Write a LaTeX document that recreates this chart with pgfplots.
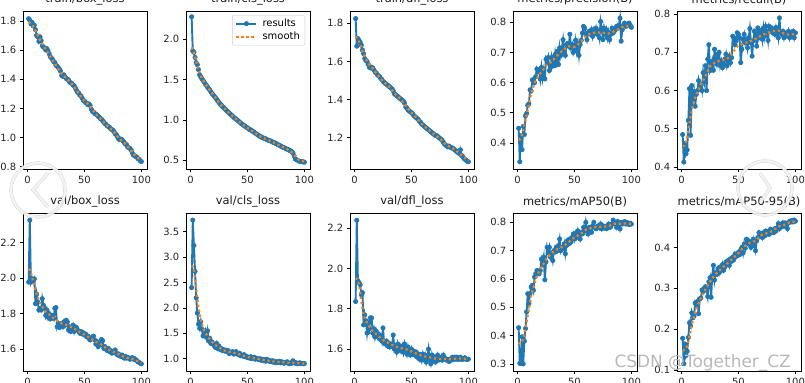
\documentclass[border=0pt]{standalone}
\usepackage{fontspec}
\setmainfont{DejaVu Sans}
\usepackage{pgfplots}
\usepackage{pgfplotstable}
\pgfplotsset{compat=1.18}
\definecolor{C0}{HTML}{1F77B4}
\definecolor{C1}{HTML}{FF7F0E}

\pgfplotstableread{
ep A B C D E F G H I J
1 1.815 2.280 1.825 0.449 0.485 1.977 2.40 1.836 0.428 0.178
2 1.805 1.855 1.680 0.338 0.413 2.325 3.73 2.240 0.302 0.116
3 1.780 1.840 1.720 0.424 0.462 1.977 3.23 1.940 0.302 0.164
4 1.790 1.775 1.710 0.378 0.435 1.996 2.72 1.930 0.396 0.136
5 1.765 1.710 1.700 0.455 0.445 1.980 2.20 1.920 0.300 0.146
6 1.770 1.685 1.685 0.428 0.522 1.995 1.90 1.870 0.380 0.180
7 1.740 1.625 1.660 0.490 0.605 1.856 1.68 1.880 0.425 0.216
8 1.700 1.560 1.640 0.498 0.483 1.910 1.60 1.720 0.484 0.208
9 1.690 1.535 1.615 0.525 0.613 1.865 1.73 1.770 0.548 0.240
10 1.660 1.510 1.605 0.530 0.574 1.820 1.58 1.740 0.513 0.228
11 1.690 1.490 1.600 0.576 0.596 1.830 1.45 1.680 0.548 0.232
12 1.665 1.470 1.585 0.572 0.559 1.820 1.48 1.730 0.572 0.264
13 1.630 1.445 1.570 0.609 0.590 1.884 1.55 1.700 0.578 0.258
14 1.620 1.430 1.565 0.610 0.600 1.847 1.42 1.755 0.560 0.268
15 1.615 1.405 1.570 0.600 0.626 1.830 1.55 1.755 0.607 0.238
16 1.600 1.385 1.565 0.620 0.609 1.790 1.35 1.680 0.618 0.274
17 1.610 1.370 1.555 0.645 0.615 1.820 1.40 1.700 0.630 0.276
18 1.595 1.345 1.545 0.635 0.600 1.780 1.30 1.660 0.624 0.296
19 1.575 1.325 1.540 0.640 0.647 1.800 1.33 1.690 0.618 0.292
20 1.555 1.310 1.530 0.612 0.626 1.770 1.28 1.665 0.630 0.300
21 1.545 1.290 1.525 0.650 0.665 1.780 1.25 1.675 0.670 0.304
22 1.535 1.275 1.520 0.615 0.600 1.790 1.22 1.650 0.654 0.296
23 1.520 1.255 1.510 0.640 0.682 1.773 1.30 1.665 0.677 0.280
24 1.515 1.235 1.505 0.612 0.720 1.830 1.20 1.640 0.597 0.316
25 1.495 1.215 1.495 0.677 0.652 1.834 1.25 1.705 0.660 0.326
26 1.490 1.200 1.490 0.666 0.660 1.726 1.18 1.630 0.712 0.278
27 1.480 1.185 1.485 0.683 0.677 1.745 1.20 1.625 0.695 0.330
28 1.470 1.165 1.480 0.640 0.653 1.722 1.16 1.640 0.712 0.356
29 1.455 1.155 1.475 0.650 0.708 1.735 1.18 1.615 0.677 0.320
30 1.425 1.140 1.470 0.683 0.682 1.745 1.15 1.630 0.689 0.338
31 1.420 1.125 1.465 0.660 0.669 1.726 1.17 1.610 0.665 0.334
32 1.430 1.110 1.460 0.655 0.695 1.754 1.14 1.625 0.700 0.348
33 1.415 1.100 1.455 0.693 0.700 1.735 1.16 1.615 0.695 0.338
34 1.405 1.085 1.445 0.658 0.665 1.763 1.10 1.670 0.712 0.352
35 1.400 1.070 1.430 0.704 0.677 1.754 1.13 1.600 0.700 0.344
36 1.395 1.060 1.425 0.660 0.660 1.708 1.12 1.615 0.718 0.358
37 1.380 1.045 1.420 0.715 0.669 1.726 1.14 1.585 0.741 0.344
38 1.375 1.030 1.415 0.690 0.682 1.700 1.09 1.625 0.700 0.352
39 1.370 1.020 1.410 0.715 0.695 1.717 1.11 1.600 0.712 0.364
40 1.360 1.010 1.405 0.742 0.665 1.735 1.14 1.615 0.706 0.358
41 1.355 1.000 1.400 0.700 0.677 1.700 1.10 1.590 0.724 0.368
42 1.340 0.985 1.395 0.690 0.690 1.726 1.08 1.615 0.689 0.356
43 1.325 0.975 1.390 0.726 0.673 1.722 1.11 1.585 0.718 0.372
44 1.310 0.960 1.380 0.730 0.686 1.708 1.06 1.625 0.736 0.366
45 1.305 0.950 1.360 0.720 0.742 1.700 1.07 1.600 0.724 0.376
46 1.290 0.940 1.355 0.760 0.738 1.690 1.05 1.575 0.741 0.370
47 1.285 0.930 1.345 0.715 0.720 1.700 1.08 1.610 0.730 0.384
48 1.270 0.920 1.340 0.726 0.730 1.686 1.04 1.585 0.747 0.378
49 1.255 0.910 1.335 0.700 0.751 1.693 1.05 1.570 0.759 0.380
50 1.250 0.900 1.330 0.715 0.747 1.680 1.02 1.600 0.741 0.388
51 1.240 0.890 1.325 0.740 0.738 1.686 1.03 1.575 0.761 0.382
52 1.235 0.880 1.315 0.705 0.673 1.670 1.01 1.590 0.747 0.394
53 1.225 0.875 1.310 0.728 0.708 1.674 1.04 1.570 0.770 0.400
54 1.230 0.865 1.305 0.690 0.734 1.660 1.00 1.585 0.753 0.386
55 1.220 0.855 1.300 0.726 0.747 1.652 1.02 1.560 0.741 0.408
56 1.195 0.845 1.295 0.740 0.725 1.660 1.03 1.575 0.765 0.398
57 1.180 0.835 1.285 0.764 0.734 1.670 0.99 1.550 0.759 0.420
58 1.175 0.825 1.280 0.786 0.712 1.674 1.01 1.570 0.782 0.418
59 1.165 0.815 1.270 0.780 0.738 1.652 1.00 1.545 0.770 0.408
60 1.160 0.805 1.265 0.760 0.762 1.630 0.98 1.575 0.800 0.414
61 1.155 0.795 1.260 0.742 0.725 1.643 1.00 1.550 0.773 0.400
62 1.145 0.790 1.255 0.765 0.690 1.615 0.97 1.570 0.759 0.412
63 1.140 0.780 1.250 0.770 0.730 1.633 0.99 1.535 0.782 0.420
64 1.130 0.775 1.245 0.760 0.755 1.624 0.96 1.560 0.773 0.404
65 1.125 0.770 1.240 0.775 0.747 1.655 0.98 1.600 0.765 0.392
66 1.115 0.765 1.235 0.753 0.716 1.648 0.95 1.548 0.788 0.416
67 1.105 0.755 1.230 0.775 0.764 1.605 0.99 1.527 0.800 0.424
68 1.095 0.750 1.225 0.764 0.738 1.615 0.97 1.570 0.782 0.436
69 1.090 0.745 1.220 0.780 0.751 1.600 0.95 1.545 0.777 0.428
70 1.080 0.740 1.215 0.760 0.757 1.593 0.96 1.560 0.785 0.434
71 1.075 0.735 1.210 0.770 0.734 1.605 0.94 1.535 0.788 0.424
72 1.070 0.725 1.210 0.748 0.764 1.587 0.96 1.550 0.780 0.436
73 1.060 0.720 1.205 0.802 0.742 1.593 0.93 1.570 0.794 0.428
74 1.055 0.715 1.200 0.780 0.768 1.578 0.95 1.545 0.777 0.440
75 1.050 0.705 1.195 0.742 0.755 1.587 0.92 1.550 0.788 0.432
76 1.040 0.700 1.190 0.780 0.731 1.580 0.94 1.560 0.782 0.438
77 1.025 0.690 1.185 0.760 0.768 1.596 0.93 1.545 0.785 0.432
78 1.020 0.685 1.175 0.775 0.760 1.578 0.95 1.570 0.777 0.444
79 1.005 0.675 1.165 0.748 0.764 1.568 0.92 1.550 0.780 0.436
80 0.990 0.670 1.160 0.767 0.751 1.574 0.94 1.553 0.794 0.442
81 0.985 0.660 1.155 0.742 0.759 1.563 0.93 1.545 0.782 0.436
82 0.990 0.655 1.150 0.760 0.747 1.560 0.91 1.548 0.785 0.446
83 0.985 0.650 1.155 0.780 0.765 1.568 0.93 1.538 0.794 0.440
84 0.975 0.640 1.150 0.764 0.755 1.555 0.92 1.550 0.808 0.448
85 0.965 0.635 1.145 0.770 0.738 1.550 0.94 1.545 0.800 0.458
86 0.955 0.630 1.145 0.775 0.790 1.560 0.91 1.560 0.794 0.446
87 0.950 0.620 1.140 0.786 0.751 1.550 0.90 1.548 0.782 0.456
88 0.935 0.615 1.135 0.780 0.747 1.555 0.92 1.560 0.803 0.450
89 0.930 0.605 1.130 0.790 0.755 1.550 0.91 1.550 0.794 0.460
90 0.925 0.590 1.125 0.813 0.738 1.544 0.96 1.560 0.777 0.452
91 0.915 0.555 1.120 0.737 0.751 1.550 0.93 1.548 0.800 0.460
92 0.895 0.515 1.115 0.775 0.747 1.553 0.91 1.553 0.794 0.456
93 0.880 0.505 1.135 0.790 0.742 1.544 0.92 1.560 0.797 0.446
94 0.875 0.500 1.105 0.797 0.755 1.548 0.90 1.548 0.803 0.460
95 0.870 0.490 1.100 0.786 0.738 1.540 0.91 1.553 0.794 0.464
96 0.865 0.485 1.090 0.790 0.751 1.537 0.92 1.550 0.800 0.462
97 0.855 0.485 1.085 0.790 0.747 1.530 0.90 1.557 0.797 0.466
98 0.850 0.480 1.080 0.797 0.755 1.526 0.91 1.550 0.792 0.462
99 0.840 0.478 1.075 0.790 0.738 1.522 0.90 1.548 0.797 0.467
100 0.835 0.475 1.072 0.783 0.751 1.518 0.905 1.550 0.794 0.464
}\raw

\pgfplotstableread{
ep A B C D E F G H I J
1 1.790 1.900 1.730 0.410 0.455 2.050 2.830 1.950 0.375 0.150
2 1.788 1.880 1.722 0.412 0.455 2.045 2.820 1.950 0.372 0.149
3 1.782 1.830 1.715 0.418 0.458 2.030 2.740 1.940 0.372 0.150
4 1.773 1.780 1.703 0.428 0.466 2.005 2.580 1.920 0.378 0.153
5 1.762 1.730 1.690 0.442 0.480 1.980 2.380 1.880 0.390 0.160
6 1.750 1.680 1.675 0.458 0.497 1.955 2.180 1.840 0.405 0.170
7 1.735 1.630 1.658 0.475 0.515 1.932 2.020 1.800 0.425 0.183
8 1.718 1.585 1.642 0.492 0.533 1.910 1.880 1.770 0.448 0.196
10 1.685 1.515 1.612 0.530 0.562 1.875 1.680 1.740 0.495 0.222
12 1.655 1.470 1.590 0.565 0.582 1.848 1.550 1.720 0.540 0.243
16 1.605 1.385 1.563 0.608 0.610 1.810 1.410 1.690 0.600 0.270
20 1.555 1.310 1.530 0.630 0.632 1.790 1.300 1.670 0.635 0.293
25 1.495 1.215 1.495 0.655 0.663 1.765 1.220 1.645 0.668 0.316
30 1.437 1.140 1.470 0.670 0.675 1.745 1.160 1.630 0.692 0.335
35 1.400 1.070 1.432 0.690 0.680 1.735 1.130 1.615 0.705 0.348
40 1.360 1.010 1.405 0.708 0.682 1.720 1.110 1.605 0.715 0.360
45 1.302 0.950 1.365 0.720 0.700 1.700 1.070 1.600 0.730 0.373
50 1.250 0.900 1.330 0.718 0.718 1.683 1.035 1.588 0.747 0.386
55 1.215 0.855 1.300 0.732 0.724 1.662 1.015 1.576 0.758 0.402
60 1.160 0.805 1.265 0.755 0.728 1.642 0.992 1.565 0.774 0.411
65 1.122 0.770 1.240 0.764 0.735 1.626 0.972 1.560 0.780 0.416
70 1.080 0.740 1.215 0.766 0.744 1.602 0.955 1.554 0.785 0.430
75 1.048 0.705 1.195 0.765 0.750 1.587 0.938 1.551 0.784 0.435
80 0.997 0.670 1.163 0.762 0.755 1.573 0.934 1.551 0.787 0.440
85 0.963 0.635 1.147 0.770 0.757 1.556 0.922 1.549 0.795 0.451
88 0.937 0.610 1.137 0.776 0.753 1.551 0.920 1.552 0.795 0.453
90 0.920 0.585 1.127 0.780 0.749 1.548 0.920 1.553 0.795 0.455
92 0.898 0.550 1.117 0.783 0.747 1.545 0.918 1.553 0.796 0.458
95 0.872 0.505 1.100 0.787 0.746 1.538 0.912 1.552 0.796 0.461
100 0.842 0.480 1.078 0.789 0.748 1.524 0.905 1.551 0.795 0.464
}\smooth

\pgfplotsset{
  yolo/.style={
    scale only axis, width=124bp, height=158bp, anchor=south west,
    xmin=-3.95, xmax=104.95, xtick={0,50,100},
    tick align=outside, tick pos=left, major tick length=3.3bp,
    clip marker paths=true,
    axis line style={line width=0.75bp},
    every tick/.append style={line width=0.75bp, black},
    ticklabel style={font=\fontsize{10}{12}\selectfont, text=black!85},
    /pgf/number format/assume math mode=true,
    yticklabel style={/pgf/number format/.cd, fixed, fixed zerofill, precision=1},
    title style={font=\fontsize{11.5}{13}\selectfont, at={(0.5,1)}, anchor=south, inner sep=0pt, yshift=-0.4bp, text=black!90},
    legend image code/.code={\draw[mark repeat=2,mark phase=2,##1] plot coordinates {(0bp,0bp)(10bp,0bp)(20bp,0bp)};},
  },
  res/.style={color=C0, line width=1.9bp, mark=*, mark size=2.2bp, mark options={solid, line width=0.6bp}},
  smo/.style={color=C1, line width=2.2bp, dash pattern=on 2.2bp off 2.8bp, no markers},
}

\begin{document}
\begin{tikzpicture}[x=1bp,y=1bp]
\path[use as bounding box] (0,0) rectangle (805,382);

% top row
\begin{axis}[yolo, at={(23bp,213bp)}, title={train/box\_loss}, ymin=0.784, ymax=1.868, ytick={0.8,1.0,1.2,1.4,1.6,1.8}]
\addplot[res] table[x=ep,y=A]{\raw};
\addplot[smo] table[x=ep,y=A]{\smooth};
\end{axis}

\begin{axis}[yolo, at={(186bp,213bp)}, title={train/cls\_loss}, ymin=0.39, ymax=2.352, ytick={0.5,1.0,1.5,2.0},
  legend style={at={(0.96,0.975)}, anchor=north east, font=\fontsize{10}{12}\selectfont, draw=black!20, rounded corners=2bp, fill=white, inner xsep=3bp, inner ysep=2bp, row sep=0bp, nodes={inner sep=2bp}}, legend cell align=left,
  /tikz/every odd column/.append style={column sep=3bp}]
\addplot[res] table[x=ep,y=B]{\raw};
\addlegendentry{results}
\addplot[smo] table[x=ep,y=B]{\smooth};
\addlegendentry{smooth}
\end{axis}

\begin{axis}[yolo, at={(350bp,213bp)}, title={train/dfl\_loss}, ymin=1.034, ymax=1.865, ytick={1.2,1.4,1.6,1.8}]
\addplot[res] table[x=ep,y=C]{\raw};
\addplot[smo] table[x=ep,y=C]{\smooth};
\end{axis}

\begin{axis}[yolo, at={(513bp,213bp)}, title={metrics/precision(B)}, ymin=0.314, ymax=0.837, ytick={0.4,0.5,0.6,0.7,0.8}]
\addplot[res] table[x=ep,y=D]{\raw};
\addplot[smo] table[x=ep,y=D]{\smooth};
\end{axis}

\begin{axis}[yolo, at={(677bp,213bp)}, title={metrics/recall(B)}, ymin=0.395, ymax=0.808, ytick={0.4,0.5,0.6,0.7,0.8}]
\addplot[res] table[x=ep,y=E]{\raw};
\addplot[smo] table[x=ep,y=E]{\smooth};
\end{axis}

% bottom row
\begin{axis}[yolo, at={(23bp,11bp)}, title={val/box\_loss}, ymin=1.478, ymax=2.365, ytick={1.6,1.8,2.0,2.2}]
\addplot[res] table[x=ep,y=F]{\raw};
\addplot[smo] table[x=ep,y=F]{\smooth};
\end{axis}

\begin{axis}[yolo, at={(186bp,11bp)}, title={val/cls\_loss}, ymin=0.758, ymax=3.87, ytick={1.0,1.5,2.0,2.5,3.0,3.5}]
\addplot[res] table[x=ep,y=G]{\raw};
\addplot[smo] table[x=ep,y=G]{\smooth};
\end{axis}

\begin{axis}[yolo, at={(350bp,11bp)}, title={val/dfl\_loss}, ymin=1.491, ymax=2.276, ytick={1.6,1.8,2.0,2.2}]
\addplot[res] table[x=ep,y=H]{\raw};
\addplot[smo] table[x=ep,y=H]{\smooth};
\end{axis}

\begin{axis}[yolo, at={(513bp,11bp)}, title={metrics/mAP50(B)}, ymin=0.275, ymax=0.833, ytick={0.3,0.4,0.5,0.6,0.7,0.8}]
\addplot[res] table[x=ep,y=I]{\raw};
\addplot[smo] table[x=ep,y=I]{\smooth};
\end{axis}

\begin{axis}[yolo, at={(677bp,11bp)}, title={metrics/mAP50-95(B)}, ymin=0.098, ymax=0.484, ytick={0.1,0.2,0.3,0.4}]
\addplot[res] table[x=ep,y=J]{\raw};
\addplot[smo] table[x=ep,y=J]{\smooth};
\end{axis}

% screenshot overlays
\begin{scope}[opacity=0.75]
\draw[draw=black!25, double=white, double distance=2.5bp, line width=0.4bp] (38,192) circle (27);
\draw[draw=black!25, double=white, double distance=2.5bp, line width=0.4bp] (48,209) -- (33,192) -- (48,175);
\draw[draw=black!25, double=white, double distance=2.5bp, line width=0.4bp] (765,194) circle (27);
\draw[draw=black!25, double=white, double distance=2.5bp, line width=0.4bp] (760,209) -- (770,194) -- (760,179);
\end{scope}
\node[anchor=south east, inner sep=0pt, text=black!28, font=\fontsize{17}{19}\selectfont] at (791,10) {CSDN @Together\_CZ};
\end{tikzpicture}
\end{document}
